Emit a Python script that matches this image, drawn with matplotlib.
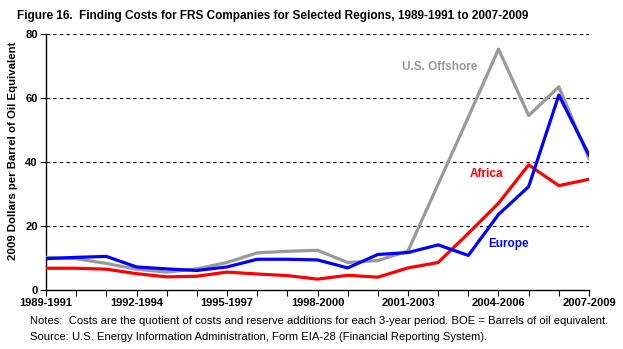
import numpy as np
import matplotlib.pyplot as plt

periods = ['1989-1991', '1990-1992', '1991-1993', '1992-1994', '1993-1995',
           '1994-1996', '1995-1997', '1996-1998', '1997-1999', '1998-2000',
           '1999-2001', '2000-2002', '2001-2003', '2002-2004', '2003-2005',
           '2004-2006', '2005-2007', '2006-2008', '2007-2009']

us_offshore = [10.2, 9.8, 8.3, 6.5, 5.6, 6.6, 8.6, 11.6, 12.1, 12.4,
               8.6, 9.2, 12.2, 33.1, 54.0, 75.3, 54.5, 63.5, 41.1]
europe = [9.8, 10.2, 10.5, 7.2, 6.6, 6.1, 7.2, 9.6, 9.6, 9.4,
          6.9, 11.1, 11.7, 14.1, 10.8, 23.6, 32.3, 60.9, 42.2]
africa = [6.8, 6.8, 6.5, 5.1, 4.1, 4.3, 5.6, 5.0, 4.5, 3.4,
          4.6, 4.0, 6.9, 8.6, 17.7, 27.1, 39.1, 32.6, 34.6]

yticks = [0, 20, 40, 60, 80]

plt.rcParams['font.family'] = ['Liberation Sans', 'DejaVu Sans']

fig = plt.figure(figsize=(6.23, 3.49), dpi=100)
ax = fig.add_axes([46 / 623, 1 - 290 / 349, 543 / 623, 256 / 349])

x = np.arange(len(periods))
ax.plot(x, us_offshore, color='#999999', lw=2.3, zorder=3)
ax.plot(x, africa, color='#ff0000', lw=2.3, zorder=4)
ax.plot(x, europe, color='#0000ff', lw=2.3, zorder=5)

ax.set_xlim(0, len(periods) - 1)
ax.set_ylim(0, 80)
ax.set_yticks(yticks)
ax.set_yticklabels([str(v) for v in yticks], fontsize=8, fontweight='bold')
ax.set_xticks(x[::3])
ax.set_xticklabels(periods[::3], fontsize=8, fontweight='bold')
ax.set_xticks(x, minor=True)
ax.tick_params(axis='x', which='both', length=4, width=0.8, pad=2)
ax.tick_params(axis='y', length=4, width=0.8, pad=2)

for v in yticks[1:]:
    ax.axhline(v, color='black', lw=0.8, ls=(0, (3, 3)), zorder=1)

for s in ['top', 'right']:
    ax.spines[s].set_visible(False)
for s in ['left', 'bottom']:
    ax.spines[s].set_linewidth(1.0)

# y label sits a bit above the axis centre in the original
fig.text(13 / 623, 1 - 151 / 349, '2009 Dollars per Barrel of Oil Equivalent',
         fontsize=8.2, fontweight='bold', rotation=90, ha='center', va='center')

ax.text(14.3, 69.7, 'U.S. Offshore', color='#999999', fontsize=8.5,
        fontweight='bold', ha='right', va='center')
ax.text(14.05, 36.3, 'Africa', color='#ff0000', fontsize=8.5,
        fontweight='bold', ha='left', va='center')
ax.text(14.65, 14.4, 'Europe', color='#0000ff', fontsize=8.5,
        fontweight='bold', ha='left', va='center')

fig.text(17 / 623, 1 - 16 / 349,
         'Figure 16.  Finding Costs for FRS Companies for Selected Regions, 1989-1991 to 2007-2009',
         fontsize=8.5, fontweight='bold', va='center', ha='left')
fig.text(30 / 623, 1 - 321 / 349,
         'Notes:  Costs are the quotient of costs and reserve additions for each 3-year period. BOE = Barrels of oil equivalent.',
         fontsize=8.1, va='center', ha='left')
fig.text(30 / 623, 1 - 337 / 349,
         'Source: U.S. Energy Information Administration, Form EIA-28 (Financial Reporting System).',
         fontsize=8.1, va='center', ha='left')

fig.savefig('out.png', dpi=100)
